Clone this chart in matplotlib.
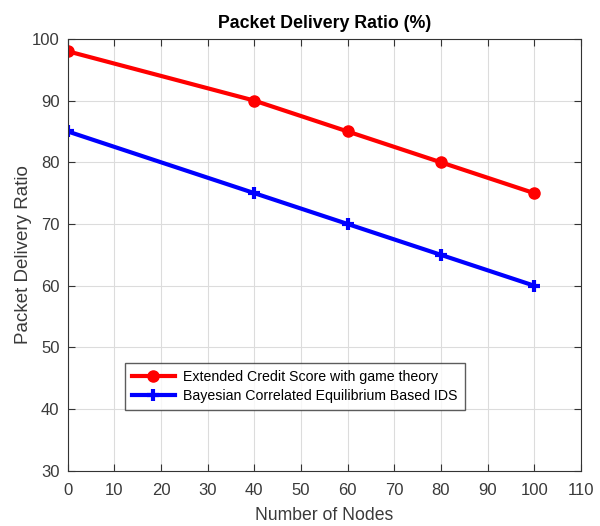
import matplotlib
matplotlib.use("Agg")
import matplotlib.pyplot as plt

nodes = [0, 40, 60, 80, 100]
ecs_pdr = [98, 90, 85, 80, 75]
bce_pdr = [85, 75, 70, 65, 60]
x_ticks = list(range(0, 111, 10))
y_ticks = list(range(30, 101, 10))

plt.rcParams["font.family"] = ["Liberation Sans", "DejaVu Sans"]

fig = plt.figure(figsize=(6, 5.26), dpi=100)
ax = fig.add_axes([0.113, 0.105, 0.855, 0.821])

ax.plot(nodes, ecs_pdr, color="#ff0000", lw=3, marker="o", ms=8,
        label="Extended Credit Score with game theory")
ax.plot(nodes, bce_pdr, color="#0000ff", lw=3, marker="+", ms=9, mew=3,
        label="Bayesian Correlated Equilibrium Based IDS")

ax.set_xlim(0, 110)
ax.set_ylim(30, 100)
ax.set_xticks(x_ticks)
ax.set_yticks(y_ticks)
ax.grid(True, color="#dcdcdc", lw=0.8)
ax.tick_params(direction="in", top=True, right=True, labelsize=12,
               labelcolor="#3a3a3a", color="#333333", length=5, pad=6)
ax.tick_params(axis="x", pad=9)
for s in ax.spines.values():
    s.set_color("#333333")

ax.set_title("Packet Delivery Ratio (%)", fontsize=12.8, fontweight="bold", pad=8)
ax.set_xlabel("Number of Nodes", fontsize=12.7, color="#3a3a3a", labelpad=6)
ax.set_ylabel("Packet Delivery Ratio", fontsize=13.5, color="#3a3a3a", labelpad=0)

leg = ax.legend(loc="lower left", bbox_to_anchor=(0.098, 0.125), fontsize=10.2,
                frameon=True, fancybox=False, edgecolor="#333333",
                handlelength=3.0, handletextpad=0.6, borderpad=0.5,
                labelspacing=0.35)
leg.get_frame().set_linewidth(1)

fig.savefig("out.png", dpi=100)
